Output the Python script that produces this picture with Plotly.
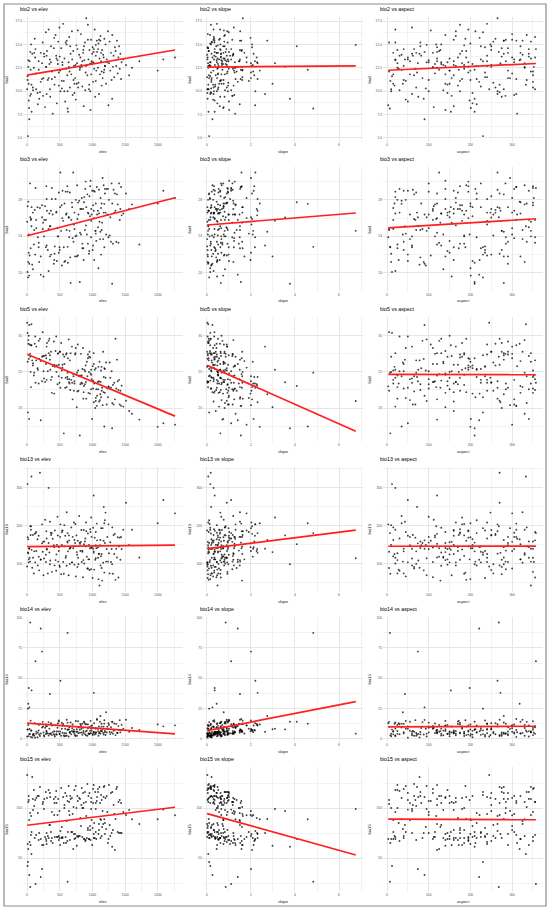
import numpy as np
import plotly.graph_objects as go

# site table: one value per site, same order in every list
elev = [
    2, 8, 28, 20, 26, 33, 50, 47, 55, 62,
    68, 80, 70, 105, 118, 92, 142, 130, 166, 178,
    186, 198, 240, 252, 264, 276, 288, 210, 295, 230,
    305, 318, 330, 342, 355, 367, 380, 392, 350, 416,
    425, 436, 446, 456, 466, 476, 486, 496, 506, 510,
    522, 532, 542, 552, 562, 572, 584, 596, 606, 616,
    625, 636, 645, 655, 666, 676, 686, 697, 706, 716,
    724, 734, 745, 755, 765, 776, 786, 797, 806, 815,
    824, 836, 845, 856, 866, 875, 885, 896, 905, 914,
    922, 930, 938, 946, 954, 962, 970, 978, 986, 995,
    1002, 1010, 1018, 1026, 1034, 1042, 1050, 1058, 1066, 1020,
    1083, 1091, 1099, 1107, 1115, 1123, 1131, 1139, 1147, 1155,
    1163, 1172, 1181, 1190, 1199, 1208, 1217, 1226, 1235, 1244,
    1252, 1262, 1272, 1282, 1292, 1302, 1312, 1322, 1332, 1342,
    1352, 1363, 1374, 1385, 1396, 1406, 1416, 1426, 1436, 1445,
    15, 35, 1470, 1512, 1560, 1603, 1715, 1995, 2082, 2260,
    300, 620, 640, 760, 870, 980, 1050, 1120, 1180, 1300,
    40, 160, 290, 410, 530, 650, 770, 890, 1010, 1130,
    90, 210, 330, 450, 570, 690, 810, 930, 1050, 1170,
    20, 140, 260, 380, 500, 620, 740, 860, 980, 1100,
    60, 180, 300, 420, 540, 660, 780, 900, 1020, 1140,
    110, 230, 350, 470, 590, 710, 830, 950, 1070, 1190,
    10, 125, 245, 365, 485, 605, 725, 845, 965, 1085,
]
slope = [
    0.02, 0.15, 0.35, 0.44, 0.66, 0.74, 0.85, 1.16, 1.62, 2.05,
    0.06, 0.21, 0.35, 0.51, 0.59, 0.82, 0.91, 1.1, 1.49, 2.18,
    0.03, 0.17, 0.34, 0.46, 0.64, 0.76, 0.99, 1.4, 1.58, 2.0,
    0.08, 0.2, 0.3, 0.5, 0.6, 0.8, 0.93, 1.28, 1.5, 1.98,
    0.01, 0.14, 0.33, 0.47, 0.65, 0.79, 0.96, 1.22, 1.6, 2.2,
    0.05, 0.19, 0.36, 0.45, 0.61, 0.75, 1.0, 1.18, 1.5, 2.15,
    0.07, 0.16, 0.31, 0.52, 0.63, 0.81, 0.92, 1.24, 1.57, 2.02,
    0.02, 0.22, 0.28, 0.49, 0.67, 0.77, 0.97, 1.19, 1.54, 2.26,
    0.04, 0.13, 0.37, 0.43, 0.58, 0.83, 0.94, 1.26, 1.63, 2.08,
    0.09, 0.18, 0.32, 0.5, 0.62, 0.73, 1.01, 1.15, 1.48, 2.12,
    0.03, 0.2, 0.35, 0.47, 0.6, 0.8, 0.9, 1.23, 1.56, 2.3,
    0.06, 0.15, 0.3, 0.48, 0.66, 0.78, 0.98, 1.21, 1.59, 2.0,
    0.01, 0.19, 0.33, 0.53, 0.61, 0.76, 0.95, 1.27, 1.51, 2.19,
    0.05, 0.23, 0.29, 0.45, 0.64, 0.82, 0.93, 1.17, 1.61, 2.05,
    0.08, 0.17, 0.34, 0.5, 0.63, 0.74, 0.99, 1.2, 1.53, 2.28,
    0.1, 0.25, 0.55, 0.9, 0.4, 1.3, 0.7, 2.4, 1.1, 1.8,
    2.64, 4.83, 3.55, 2.98, 4.08, 3.09, 6.76, 2.74, 4.58, 3.77,
    0.9, 0.2, 1.4, 0.05, 0.6, 2.1, 0.35, 1.1, 0.15, 0.75,
    0.3, 1.7, 0.1, 0.8, 0.45, 0.02, 1.25, 0.55, 1.9, 0.25,
    1.2, 0.08, 0.65, 2.3, 0.4, 0.95, 0.12, 1.5, 0.5, 0.3,
    0.15, 0.7, 1.05, 0.28, 1.8, 0.42, 0.9, 0.06, 0.6, 1.35,
    0.5, 1.3, 0.04, 0.85, 0.22, 1.6, 0.68, 0.38, 1.0, 0.1,
    0.75, 0.03, 1.15, 0.45, 2.0, 0.18, 0.55, 1.45, 0.32, 0.88,
]
aspect = [
    245, 12, 198, 318, 150, 201, 268, 284, 172, 118,
    333, 78, 153, 25, 260, 135, 300, 357, 215, 160,
    88, 270, 5, 155, 340, 112, 230, 221, 195, 74,
    180, 40, 20, 130, 75, 250, 350, 312, 43, 222,
    235, 140, 30, 205, 100, 345, 170, 60, 290, 265,
    275, 93, 160, 240, 8, 120, 50, 185, 325, 350,
    210, 95, 355, 70, 280, 15, 165, 305, 125, 240,
    145, 290, 45, 185, 330, 105, 255, 35, 210, 170,
    300, 352, 225, 110, 160, 20, 80, 195, 265, 135,
    65, 175, 320, 10, 250, 205, 140, 285, 55, 340,
    235, 350, 120, 28, 195, 275, 82, 150, 310, 272,
    110, 200, 265, 345, 55, 165, 230, 18, 128, 295,
    325, 72, 188, 140, 248, 38, 305, 100, 212, 3,
    25, 255, 150, 290, 100, 335, 185, 62, 240, 120,
    190, 40, 280, 115, 355, 225, 68, 175, 310, 145,
    230, 90, 20, 270, 160, 330, 120, 200, 50, 300,
    60, 7, 250, 140, 320, 180, 95, 280, 35, 210,
    240, 205, 110, 290, 175, 345, 65, 30, 130, 15,
    260, 320, 85, 150, 10, 225, 120, 300, 45, 190,
    330, 355, 60, 215, 275, 100, 185, 25, 140, 160,
    310, 125, 240, 270, 195, 80, 350, 165, 40, 5,
    70, 180, 280, 115, 20, 335, 250, 145, 90, 215,
    200, 50, 155, 305, 235, 130, 15, 285, 175, 340,
]
bio2 = [
    10.2, 11.6, 9.0, 13.3, 10.8, 8.2, 14.2, 9.5, 12.3, 15.0,
    10.7, 14.0, 7.8, 12.5, 15.6, 10.1, 11.9, 14.5, 8.6, 13.2,
    9.2, 9.9, 15.2, 11.4, 13.7, 8.3, 16.3, 11.0, 12.6, 13.0,
    14.3, 11.2, 16.6, 12.9, 9.4, 14.8, 12.1, 7.6, 13.4, 15.7,
    11.5, 16.0, 13.8, 8.7, 13.3, 15.3, 10.6, 16.8, 12.2, 10.0,
    14.6, 10.3, 12.8, 17.2, 11.1, 13.5, 8.9, 12.4, 15.4, 11.7,
    7.8, 13.1, 15.8, 10.4, 14.0, 11.8, 16.4, 9.6, 14.3, 12.7,
    9.8, 11.4, 9.1, 14.9, 13.0, 16.5, 10.9, 13.9, 12.3, 13.6,
    16.1, 12.6, 10.5, 14.1, 8.4, 13.3, 15.2, 12.0, 17.8, 12.8,
    11.7, 17.1, 13.4, 10.2, 14.4, 12.9, 8.0, 15.5, 13.2, 14.0,
    14.7, 11.0, 14.2, 12.4, 16.6, 9.4, 13.8, 12.2, 15.4, 13.0,
    12.5, 15.1, 9.7, 13.5, 11.8, 15.9, 13.2, 10.6, 14.4, 11.4,
    13.9, 12.0, 15.6, 12.7, 15.0, 10.8, 13.4, 13.1, 16.4, 8.5,
    13.0, 15.3, 12.2, 14.1, 11.2, 16.0, 12.6, 13.8, 11.5, 14.7,
    14.3, 12.7, 15.4, 11.9, 13.6, 14.8, 12.4, 14.0, 11.3, 13.1,
    5.2, 7.0, 13.4, 12.8, 11.7, 12.5, 13.2, 12.2, 13.4, 13.6,
    9.7, 8.15, 12.6, 10.8, 14.8, 13.0, 14.95, 15.4, 12.3, 9.2,
    13.2, 9.8, 12.6, 14.6, 11.1, 12.1, 14.5, 10.1, 13.1, 14.1,
    10.4, 14.1, 11.4, 13.5, 10.0, 13.4, 12.5, 15.5, 11.1, 13.6,
    12.6, 10.2, 14.0, 11.3, 13.7, 10.0, 12.8, 14.4, 11.8, 15.5,
    9.7, 12.3, 13.8, 10.7, 13.1, 14.8, 10.4, 12.7, 14.5, 12.1,
    14.1, 11.3, 10.2, 12.9, 15.2, 11.2, 12.8, 10.7, 14.2, 12.7,
    11.2, 13.6, 9.5, 13.1, 12.0, 15.0, 10.8, 13.2, 10.0, 14.5,
]
bio3 = [
    25.6, 20.1, 24.2, 27.8, 22.2, 19.7, 26.1, 29.8, 22.7, 25.9,
    25.1, 20.9, 27.2, 23.1, 26.9, 20.4, 24.9, 29.3, 23.9, 22.8,
    21.2, 27.1, 24.8, 19.6, 25.8, 27.3, 22.8, 19.8, 29.5, 26.1,
    26.8, 22.5, 20.2, 26.5, 25.1, 22.0, 29.3, 26.4, 25.1, 21.4,
    22.9, 28.1, 26.6, 21.3, 24.9, 24.0, 28.8, 22.8, 27.2, 31.0,
    24.6, 20.8, 29.0, 25.7, 22.8, 27.6, 21.3, 26.4, 24.7, 29.5,
    21.1, 26.1, 23.9, 28.8, 18.9, 25.8, 27.7, 23.8, 31.0, 25.3,
    26.6, 21.8, 28.0, 24.1, 29.6, 21.9, 26.4, 27.9, 19.0, 27.0,
    24.2, 28.2, 22.7, 27.0, 21.4, 28.3, 24.7, 30.0, 27.2, 24.2,
    28.6, 23.2, 26.5, 22.1, 28.4, 26.2, 30.1, 23.9, 26.4, 29.0,
    22.5, 27.4, 26.0, 21.4, 28.9, 24.6, 27.6, 23.5, 29.4, 26.8,
    26.8, 20.5, 29.1, 25.6, 23.7, 28.2, 22.0, 27.6, 25.5, 30.4,
    23.7, 26.6, 22.8, 29.2, 26.6, 24.2, 29.2, 26.4, 29.2, 23.9,
    28.0, 24.1, 26.1, 23.4, 29.8, 27.6, 23.2, 29.1, 26.6, 28.7,
    26.8, 23.4, 28.6, 27.5, 23.3, 29.8, 25.8, 27.0, 29.4, 26.3,
    19.5, 21.0, 26.5, 28.7, 27.0, 27.5, 23.1, 27.6, 29.0, 28.2,
    23.0, 22.85, 26.06, 21.8, 27.74, 25.7, 24.6, 24.5, 27.56, 18.8,
    21.9, 27.2, 25.8, 21.0, 27.4, 24.6, 25.9, 29.2, 23.0, 27.1,
    26.6, 21.8, 24.8, 26.7, 21.2, 27.2, 24.4, 26.6, 24.3, 29.6,
    21.2, 25.8, 24.0, 28.1, 22.5, 28.9, 24.0, 22.7, 27.0, 26.5,
    25.8, 23.3, 28.1, 22.1, 26.0, 21.7, 27.7, 25.2, 29.0, 24.7,
    24.7, 27.4, 21.8, 24.0, 28.9, 23.4, 27.0, 22.4, 26.4, 28.7,
    27.3, 22.0, 25.5, 26.8, 22.2, 26.5, 24.8, 23.2, 29.5, 25.0,
]
bio5 = [
    31.8, 30.4, 26.8, 28.9, 30.0, 18.5, 27.1, 27.5, 25.0, 22.9,
    31.6, 26.6, 28.7, 24.5, 28.9, 26.2, 28.5, 23.5, 25.3, 23.4,
    26.8, 29.6, 30.5, 25.1, 27.2, 23.6, 27.3, 18.3, 26.9, 23.7,
    29.0, 25.1, 27.6, 29.6, 25.3, 27.8, 22.1, 25.8, 26.7, 22.0,
    25.7, 27.9, 29.9, 25.9, 23.3, 27.6, 26.0, 23.5, 27.8, 22.8,
    29.0, 25.2, 26.0, 27.4, 16.5, 26.1, 22.8, 27.4, 22.9, 24.3,
    26.9, 29.5, 24.0, 26.6, 27.6, 23.9, 28.5, 21.2, 24.7, 22.4,
    23.7, 27.4, 28.3, 24.6, 24.9, 28.8, 22.4, 24.4, 16.2, 23.3,
    27.5, 24.5, 25.4, 28.3, 22.2, 25.3, 23.3, 25.9, 21.3, 26.4,
    24.4, 27.4, 22.1, 25.0, 27.8, 22.0, 24.8, 22.6, 24.0, 18.5,
    25.8, 22.7, 27.6, 23.4, 25.3, 20.0, 25.5, 22.6, 20.3, 20.8,
    23.6, 25.7, 23.7, 26.4, 21.1, 23.6, 21.5, 25.7, 22.8, 20.4,
    27.8, 24.3, 25.5, 22.1, 24.2, 26.3, 20.5, 22.7, 21.5, 23.0,
    22.9, 26.3, 24.2, 22.8, 25.1, 20.7, 23.2, 20.5, 23.5, 21.2,
    29.6, 22.7, 26.7, 23.7, 22.5, 23.9, 20.5, 22.4, 20.3, 23.1,
    19.4, 31.5, 20.2, 21.0, 19.6, 19.2, 18.4, 17.4, 17.9, 17.7,
    28.5, 24.9, 23.56, 20.1, 23.05, 25.3, 20.97, 21.9, 17.45, 17.2,
    28.8, 25.5, 26.1, 29.2, 24.2, 23.4, 22.3, 25.1, 23.8, 25.2,
    25.9, 26.5, 29.3, 25.0, 27.1, 23.5, 24.5, 26.9, 21.4, 22.2,
    29.4, 26.6, 24.1, 24.3, 27.8, 24.0, 27.6, 21.3, 24.6, 20.9,
    28.7, 29.3, 23.9, 26.0, 25.6, 22.5, 25.2, 23.6, 26.1, 22.4,
    24.9, 27.1, 27.3, 27.5, 24.2, 24.4, 23.5, 27.1, 21.7, 25.4,
    26.4, 29.9, 27.2, 23.9, 24.4, 27.6, 23.4, 23.4, 27.0, 22.6,
]
bio13 = [
    93, 310, 112, 165, 104, 141, 199, 106, 176, 199,
    330, 90, 137, 75, 179, 116, 134, 181, 96, 174,
    83, 340, 132, 70, 159, 216, 124, 111, 186, 154,
    138, 75, 300, 130, 109, 176, 79, 166, 211, 144,
    188, 110, 82, 150, 224, 106, 144, 96, 171, 204,
    73, 150, 187, 105, 74, 146, 174, 121, 236, 159,
    133, 70, 162, 100, 144, 196, 104, 171, 141, 209,
    98, 155, 67, 175, 124, 161, 99, 226, 156, 134,
    158, 105, 132, 65, 189, 101, 159, 146, 186, 119,
    88, 180, 112, 150, 84, 141, 184, 86, 171, 144,
    63, 140, 280, 85, 169, 111, 149, 141, 206, 129,
    143, 60, 127, 43, 149, 96, 194, 126, 56, 194,
    103, 250, 77, 155, 235, 106, 139, 171, 106, 204,
    128, 75, 157, 105, 139, 196, 74, 176, 126, 179,
    58, 140, 117, 170, 64, 146, 169, 111, 171, 139,
    130, 140, 190, 261, 150, 190, 117, 207, 268, 233,
    140, 181, 175, 131, 152, 222, 115, 163, 207, 99,
    116, 165, 105, 149, 183, 140, 92, 167, 195, 120,
    176, 112, 155, 125, 202, 104, 153, 88, 184, 161,
    128, 184, 114, 181, 92, 156, 205, 110, 142, 126,
    190, 119, 167, 96, 188, 142, 116, 209, 133, 89,
    133, 204, 99, 175, 116, 146, 189, 112, 162, 215,
    170, 104, 158, 182, 134, 95, 163, 135, 191, 116,
]
bio14 = [
    2.0, 7.7, 42, 29, 2.3, 4.0, 96, 4.1, 15.1, 6.8,
    7.1, 1.3, 40, 4.2, 12.9, 3.1, 5.9, 64, 5.2, 7.0,
    3.7, 2.4, 14.1, 5.3, 2.0, 9.3, 4.0, 91, 6.8, 72,
    10.4, 4.6, 2.8, 8.5, 4.2, 12.9, 3.2, 5.5, 37, 6.3,
    2.0, 11.2, 3.9, 3.6, 9.3, 6.1, 14.3, 4.2, 6.1, 48,
    2.7, 8.4, 5.1, 12.3, 3.0, 4.7, 8.4, 4.8, 15.8, 7.5,
    7.8, 2.0, 9.7, 4.9, 13.6, 3.8, 6.6, 11.9, 5.9, 7.7,
    4.4, 3.1, 14.8, 6.0, 2.7, 10.0, 4.7, 9.5, 7.5, 12.3,
    11.1, 5.2, 3.4, 9.2, 4.9, 13.6, 3.8, 6.2, 12.2, 6.9,
    2.7, 11.9, 4.6, 4.3, 10.0, 6.7, 14.9, 4.8, 6.8, 11.1,
    3.3, 9.0, 5.7, 12.9, 3.6, 5.3, 9.0, 5.4, 16.4, 38,
    8.4, 2.6, 10.3, 5.5, 14.2, 4.4, 7.1, 12.5, 6.5, 8.3,
    5.0, 3.7, 15.4, 6.6, 3.3, 22, 5.3, 10.1, 8.1, 12.9,
    11.6, 5.8, 4.0, 9.7, 5.4, 14.1, 4.4, 6.7, 12.7, 7.5,
    3.2, 12.4, 5.1, 4.9, 10.6, 7.3, 15.5, 5.4, 7.4, 11.6,
    25, 26, 8.5, 15.8, 6.0, 9.0, 7.5, 12.0, 10.4, 11.2,
    6.0, 87.4, 7.9, 8.0, 14.2, 8.5, 4.4, 18.9, 12.6, 14.2,
    8.2, 1.4, 10.7, 4.0, 13.4, 5.6, 5.9, 12.1, 4.4, 6.4,
    3.9, 4.5, 13.9, 6.1, 2.2, 8.8, 5.2, 8.8, 8.4, 10.2,
    11.6, 4.2, 3.1, 11.1, 4.1, 13.5, 2.5, 6.6, 10.8, 4.7,
    1.7, 11.6, 4.7, 3.3, 11.1, 5.8, 14.6, 3.1, 5.5, 10.2,
    2.7, 9.5, 4.4, 12.7, 2.4, 6.0, 8.4, 4.1, 15.7, 5.6,
    7.9, 1.1, 10.3, 4.5, 15.3, 2.9, 6.1, 12.5, 4.6, 6.5,
]
bio15 = [
    133, 42, 108, 59, 112, 88, 21, 95, 63, 92,
    54, 131, 76, 118, 70, 98, 110, 24, 95, 68,
    75, 121, 104, 63, 109, 71, 116, 31, 67, 39,
    110, 72, 118, 83, 111, 67, 96, 65, 83, 93,
    71, 111, 117, 71, 93, 109, 68, 97, 63, 77,
    120, 81, 70, 111, 65, 103, 115, 65, 87, 67,
    76, 122, 106, 68, 109, 76, 110, 94, 59, 74,
    118, 74, 122, 100, 72, 107, 72, 110, 72, 90,
    82, 120, 71, 115, 105, 69, 116, 68, 92, 70,
    124, 80, 112, 69, 115, 82, 68, 106, 88, 63,
    80, 119, 123, 85, 70, 116, 105, 69, 107, 74,
    119, 74, 84, 121, 105, 70, 113, 72, 81, 97,
    84, 121, 122, 74, 110, 79, 112, 96, 65, 69,
    123, 83, 72, 115, 75, 116, 78, 103, 94, 58,
    89, 119, 121, 76, 106, 75, 108, 75, 105, 75,
    46, 33, 96, 93, 98, 88.8, 84, 88.8, 98.4, 92.8,
    75, 26.3, 97, 62.3, 69, 99, 99, 89, 88.7, 61.3,
    66, 112, 69, 109, 70, 93, 112, 67, 105, 88,
    109, 69, 70, 105, 100, 76, 109, 78, 76, 111,
    106, 73, 99, 70, 70, 107, 70, 100, 110, 78,
    73, 112, 64, 105, 71, 112, 71, 106, 70, 108,
    102, 63, 115, 71, 71, 101, 103, 69, 111, 85,
    64, 108, 106, 76, 72, 112, 69, 100, 78, 116,
]

W, H = 550, 911
FONT = "Liberation Sans, Arial, sans-serif"

predictors = [("elev", elev), ("slope", slope), ("aspect", aspect)]
responses = [("bio2", bio2), ("bio3", bio3), ("bio5", bio5),
             ("bio13", bio13), ("bio14", bio14), ("bio15", bio15)]

# panel geometry in pixels
col_left = [23, 203, 383]
col_w = 160
row_top, row_h, row_step = 17, 125, 150
ytitle_x = [6, 189, 369]

x_ranges = [[-61, 2382], [-0.18, 7.09], [-9.6, 374]]
x_ticks = [(0, 500, 250), (0, 2, 1), (0, 100, 50)]
y_ranges = [[4.57, 17.93], [17.9, 31.6], [15.3, 32.6], [26, 355], [-2.5, 100.5], [16, 141]]
y_ticks = [(5, 2.5, 1.25, ".1f"), (20, 4, 2, ""), (20, 5, 2.5, ""),
           (100, 100, 50, ""), (0, 25, 12.5, ""), (0, 50, 25, "")]

fig = go.Figure()
layout = {}
annotations = []

for r, (yname, yvals) in enumerate(responses):
    for c, (xname, xvals) in enumerate(predictors):
        n = r * 3 + c + 1
        sfx = "" if n == 1 else str(n)
        x = np.array(xvals, dtype=float)
        y = np.array(yvals, dtype=float)

        fig.add_trace(go.Scatter(
            x=x, y=y, mode="markers", xaxis="x" + sfx, yaxis="y" + sfx,
            marker=dict(size=1.9, color="black", opacity=0.75, line=dict(width=0)),
            hoverinfo="skip", showlegend=False))

        # linear fit, like geom_smooth(method = "lm")
        b, a = np.polyfit(x, y, 1)
        xl = np.array([x.min(), x.max()])
        fig.add_trace(go.Scatter(
            x=xl, y=a + b * xl, mode="lines", xaxis="x" + sfx, yaxis="y" + sfx,
            line=dict(color="#ff1f1f", width=1.7), hoverinfo="skip", showlegend=False))

        left = col_left[c]
        top = row_top + row_step * r
        t0, dt, mdt = x_ticks[c]
        layout["xaxis" + sfx] = dict(
            domain=[left / W, (left + col_w) / W], anchor="y" + sfx,
            range=x_ranges[c], tick0=t0, dtick=dt, tickmode="linear",
            showgrid=True, gridcolor="#e6e6e6", gridwidth=0.6,
            minor=dict(tick0=t0, dtick=mdt, showgrid=True, gridcolor="#f2f2f2", gridwidth=0.4),
            zeroline=False, showline=False, ticks="",
            tickfont=dict(size=3.3, color="#555555", family=FONT))
        yt0, ydt, ymdt, yfmt = y_ticks[r]
        layout["yaxis" + sfx] = dict(
            domain=[1 - (top + row_h) / H, 1 - top / H], anchor="x" + sfx,
            range=y_ranges[r], tick0=yt0, dtick=ydt, tickmode="linear", tickformat=yfmt,
            showgrid=True, gridcolor="#e6e6e6", gridwidth=0.6,
            minor=dict(tick0=yt0, dtick=ymdt, showgrid=True, gridcolor="#f2f2f2", gridwidth=0.4),
            zeroline=False, showline=False, ticks="",
            tickfont=dict(size=3.3, color="#555555", family=FONT))

        annotations.append(dict(
            text=f"{yname} vs {xname}", x=(left - 5.5) / W, y=1 - (9 + row_step * r) / H,
            xref="paper", yref="paper", xanchor="left", yanchor="middle", showarrow=False,
            font=dict(size=5.3, color="black", family=FONT)))
        annotations.append(dict(
            text=xname, x=(left + col_w / 2) / W, y=1 - (151 + row_step * r) / H,
            xref="paper", yref="paper", xanchor="center", yanchor="middle", showarrow=False,
            font=dict(size=4.2, color="#222222", family=FONT)))
        annotations.append(dict(
            text=yname, x=ytitle_x[c] / W, y=1 - (top + row_h / 2) / H, textangle=-90,
            xref="paper", yref="paper", xanchor="center", yanchor="middle", showarrow=False,
            font=dict(size=4.2, color="#222222", family=FONT)))

fig.update_layout(
    width=W, height=H, margin=dict(l=0, r=0, t=0, b=0),
    paper_bgcolor="white", plot_bgcolor="white",
    annotations=annotations,
    shapes=[dict(type="rect", xref="paper", yref="paper",
                 x0=4 / W, x1=546 / W, y0=1 - 906 / H, y1=1 - 4 / H,
                 line=dict(color="#8c8c8c", width=1.2))],
    **layout)

fig.write_html("out.html", config={"displayModeBar": False},
               post_script="document.body.style.margin='0';document.body.style.overflow='hidden';")
